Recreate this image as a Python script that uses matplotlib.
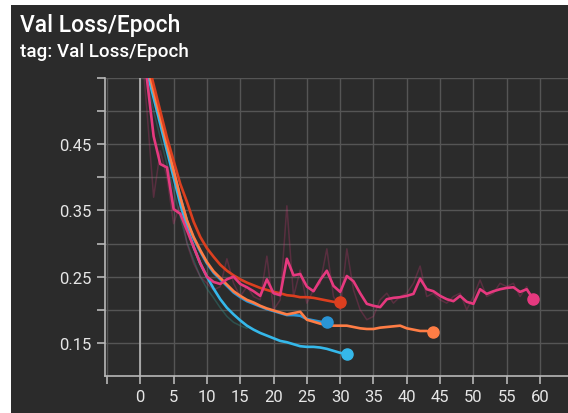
import matplotlib
matplotlib.use('Agg')
import matplotlib.pyplot as plt
from matplotlib.patches import Rectangle
import numpy as np

plt.rcParams['font.family'] = ['Roboto', 'DejaVu Sans']

# smoothed val loss per epoch
pink = [0.62, 0.548, 0.462, 0.42, 0.415, 0.352, 0.345, 0.32, 0.295, 0.27,
        0.25, 0.242, 0.239, 0.246, 0.25, 0.239, 0.234, 0.228, 0.221, 0.246,
        0.225, 0.222, 0.277, 0.252, 0.254, 0.235, 0.228, 0.245, 0.259, 0.236,
        0.227, 0.251, 0.243, 0.225, 0.209, 0.206, 0.204, 0.216, 0.218, 0.219,
        0.221, 0.224, 0.247, 0.231, 0.228, 0.221, 0.216, 0.213, 0.221, 0.212,
        0.209, 0.231, 0.224, 0.228, 0.231, 0.233, 0.234, 0.227, 0.231, 0.216]
pink_raw = [0.62, 0.50, 0.37, 0.44, 0.40, 0.33, 0.36, 0.30, 0.27, 0.25,
            0.24, 0.23, 0.235, 0.277, 0.24, 0.22, 0.235, 0.22, 0.215, 0.281,
            0.20, 0.215, 0.357, 0.22, 0.26, 0.21, 0.23, 0.24, 0.292, 0.22,
            0.20, 0.292, 0.23, 0.20, 0.185, 0.19, 0.215, 0.225, 0.21, 0.22,
            0.225, 0.24, 0.266, 0.22, 0.225, 0.215, 0.21, 0.22, 0.225, 0.20,
            0.22, 0.245, 0.22, 0.225, 0.24, 0.235, 0.24, 0.22, 0.235, 0.21]
red = [0.62, 0.58, 0.54, 0.50, 0.46, 0.425, 0.39, 0.363, 0.333, 0.31,
       0.293, 0.28, 0.268, 0.259, 0.252, 0.246, 0.241, 0.237, 0.233, 0.230,
       0.227, 0.225, 0.222, 0.221, 0.219, 0.219, 0.218, 0.216, 0.214, 0.212,
       0.211]
orange = [0.61, 0.57, 0.53, 0.49, 0.45, 0.41, 0.37, 0.335, 0.31, 0.29,
          0.272, 0.258, 0.248, 0.238, 0.228, 0.221, 0.215, 0.211, 0.206, 0.202,
          0.199, 0.196, 0.193, 0.195, 0.197, 0.185, 0.182, 0.179, 0.177, 0.176,
          0.176, 0.176, 0.174, 0.172, 0.171, 0.171, 0.173, 0.174, 0.175, 0.176,
          0.172, 0.170, 0.168, 0.168, 0.166]
blue = [0.60, 0.56, 0.52, 0.48, 0.44, 0.40, 0.36, 0.325, 0.295, 0.27,
        0.25, 0.232, 0.216, 0.203, 0.193, 0.184, 0.176, 0.170, 0.165, 0.161,
        0.157, 0.153, 0.151, 0.148, 0.145, 0.144, 0.144, 0.143, 0.141, 0.138,
        0.135, 0.133]
mid_blue = [0.61, 0.57, 0.53, 0.49, 0.45, 0.41, 0.37, 0.334, 0.308, 0.288,
            0.27, 0.256, 0.246, 0.236, 0.226, 0.219, 0.213, 0.209, 0.205, 0.201,
            0.198, 0.195, 0.192, 0.192, 0.191, 0.186, 0.184, 0.182, 0.181]
teal_raw = [0.60, 0.55, 0.50, 0.46, 0.42, 0.38, 0.34, 0.302, 0.275, 0.25,
            0.232, 0.218, 0.203, 0.19, 0.181, 0.176, 0.172]

BG = '#2b2b2b'
fig = plt.figure(figsize=(5.68, 4.14), dpi=100, facecolor='white')
fig.patches.append(Rectangle((11 / 568, 0), 1, 1 - 6 / 414, transform=fig.transFigure,
                             facecolor=BG, edgecolor='none', zorder=-10))
ax = fig.add_axes([105 / 568, 37 / 414, 463 / 568, 298 / 414])
ax.set_facecolor(BG)

ax.plot(range(len(teal_raw)), teal_raw, color='#2f8a82', lw=1.1, alpha=0.4, zorder=2)
ax.plot(range(len(pink_raw)), pink_raw, color='#e03a7e', lw=1.1, alpha=0.25, zorder=2)

series = [(mid_blue, '#2a95d6'), (blue, '#35b8ea'), (orange, '#ff7d45'),
          (red, '#dc3f1f'), (pink, '#e6397f')]
for vals, col in series:
    ep = np.arange(len(vals))
    ax.plot(ep, vals, color=col, lw=1.9, zorder=3)
    ax.plot(ep[-1], vals[-1], 'o', color=col, ms=8, zorder=4)

ax.axvline(0, color='#b8b8b8', lw=1.2, zorder=1)
ax.set_xlim(-5.3, 64.2)
ax.set_ylim(0.1, 0.55)
ax.set_xticks(np.arange(-5, 65, 5))
ax.set_xticklabels([''] + [str(v) for v in range(0, 65, 5)])
yt = np.arange(0.15, 0.551, 0.05)
ax.set_yticks(yt)
ax.set_yticklabels(['0.15', '', '0.25', '', '0.35', '', '0.45', '', ''])
ax.grid(True, color='#555555', lw=1.0, zorder=0)
ax.set_axisbelow(True)
for s in ['top', 'right']:
    ax.spines[s].set_visible(False)
for s in ['left', 'bottom']:
    ax.spines[s].set_color('#b8b8b8')
    ax.spines[s].set_linewidth(1.2)
ax.tick_params(colors='#b8b8b8', labelcolor='#e6e6e6', labelsize=12, length=6, width=1.2)

fig.text(20 / 568, 1 - 32 / 414, 'Val Loss/Epoch', color='white', fontsize=16.5,
         fontweight='medium')
fig.text(20 / 568, 1 - 57 / 414, 'tag: Val Loss/Epoch', color='white', fontsize=13.5,
         fontweight='medium')

fig.savefig('out.png', dpi=100, facecolor=fig.get_facecolor())
